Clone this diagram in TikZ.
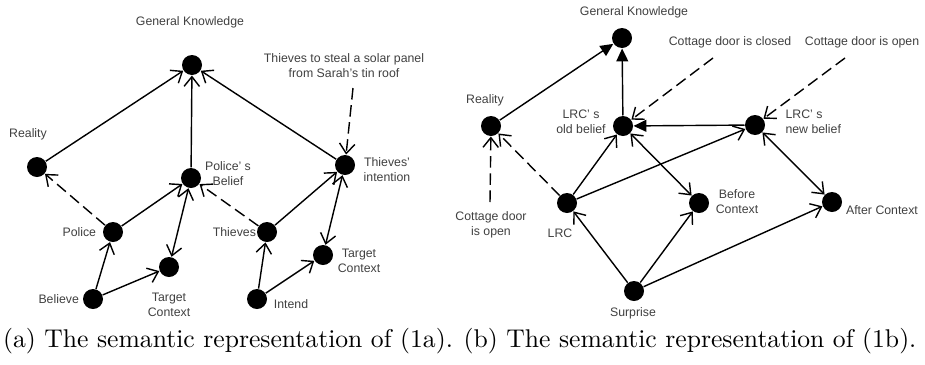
\documentclass[tikz,border=0pt]{standalone}
\usepackage{fontspec}
\newfontfamily\diafont{Liberation Sans}
\usetikzlibrary{positioning, arrows.meta}
\tikzset{
    concept/.style={circle, fill=black, inner sep=0pt, minimum size=7.8pt},
    word/.style={font=\diafont\fontsize{4.8}{5.85}\selectfont, text=black!75, align=center, inner sep=0pt},
    link/.style={-{Straight Barb[length=3.8pt,width=6pt]}, line width=0.55pt},
    dlink/.style={link, dash pattern=on 4.5pt off 2.2pt},
    blink/.style={{Straight Barb[length=3.8pt,width=6pt]}-{Straight Barb[length=3.8pt,width=6pt]}, line width=0.55pt},
    flink/.style={-{Triangle[length=5pt,width=4.6pt]}, line width=0.55pt},
    capt/.style={font=\normalsize, inner sep=0pt},
}
\begin{document}
\begin{tikzpicture}[x=0.39pt, y=-0.39pt]
    \useasboundingbox (0,0) rectangle (925,364);
    % (a) police and thieves
    \node [concept] (gka) at (192,65) {};
    \node [concept] (reala) at (37,167) {};
    \node [concept] (pb) at (191,178) {};
    \node [concept] (ti) at (345,165) {};
    \node [concept] (police) at (113,232) {};
    \node [concept] (thieves) at (267,232) {};
    \node [concept] (tcl) at (169,267) {};
    \node [concept] (believe) at (93,299) {};
    \node [concept] (tcr) at (323,255) {};
    \node [concept] (intend) at (257,299) {};
    \coordinate (steal) at (353,88);
    \node [word] at (190,22) {General Knowledge};
    \node [word] at (28,134) {Reality};
    \node [word] at (228,174) {Police’ s\\Belief};
    \node [word] at (387,170) {Thieves’\\intention};
    \node [word] (policel) [left=2.3pt of police] {Police};
    \node [word] (thievesl) [left=0pt of thieves] {Thieves};
    \node [word] (believel) [left=1.2pt of believe] {Believe};
    \node [word] at (169,305) {Target\\Context};
    \node [word] at (359,261) {Target\\Context};
    \node [word] at (291,304) {Intend};
    \node [word] at (344,66) {Thieves to steal a solar panel\\from Sarah’s tin roof};
    \draw[link] (reala) -- (gka);
    \draw[link] (pb) -- (gka);
    \draw[link] (ti) -- (gka);
    \draw[dlink] (police) -- (reala);
    \draw[link] (police) -- (pb);
    \draw[link] (believe) -- (police);
    \draw[link] (believe) -- (tcl);
    \draw[blink] (pb) -- (tcl);
    \draw[dlink] (thieves) -- (pb);
    \draw[link] (thieves) -- (ti);
    \draw[link] (intend) -- (thieves);
    \draw[link] (intend) -- (tcr);
    \draw[blink] (ti) -- (tcr);
    \draw[dlink] (steal) -- (ti);
    % (b) cottage door
    \node [concept] (gkb) at (622,38) {};
    \node [concept] (realb) at (491,126) {};
    \node [concept] (old) at (623,126) {};
    \node [concept] (new) at (755,125) {};
    \node [concept] (lrc) at (567,203) {};
    \node [concept] (before) at (699,203) {};
    \node [concept] (after) at (832,202) {};
    \node [concept] (surprise) at (634,291) {};
    \coordinate (closed) at (713,58);
    \coordinate (open) at (845,58);
    \coordinate (openb) at (490,202);
    \node [word] at (634,12) {General Knowledge};
    \node [word] at (730,42) {Cottage door is closed};
    \node [word] at (862,42) {Cottage door is open};
    \node [word] at (485,100) {Reality};
    \node [word] at (581,122) {LRC’ s\\old belief};
    \node [word, anchor=west, align=left] at (785,122) {LRC’ s\\new belief};
    \node [word] at (737,202) {Before\\Context};
    \node [word] at (882,210) {After Context};
    \node [word] at (560,233) {LRC};
    \node [word] at (633,313) {Surprise};
    \node [word] at (491,225) {Cottage door\\is open};
    \draw[flink] (realb) -- (gkb);
    \draw[flink] (old) -- (gkb);
    \draw[flink] (new) -- (old);
    \draw[dlink] (closed) -- (old);
    \draw[dlink] (open) -- (new);
    \draw[dlink] (openb) -- (realb);
    \draw[dlink] (lrc) -- (realb);
    \draw[link] (lrc) -- (old);
    \draw[link] (lrc) -- (new);
    \draw[blink] (old) -- (before);
    \draw[blink] (new) -- (after);
    \draw[link] (surprise) -- (lrc);
    \draw[link] (surprise) -- (before);
    \draw[link] (surprise) -- (after);
    % captions
    \node [capt] (capa) at (228,341) {(a) The semantic representation of (1a).};
    \node [capt] (capb) at (690,341) {(b) The semantic representation of (1b).};
\end{tikzpicture}
\end{document}
